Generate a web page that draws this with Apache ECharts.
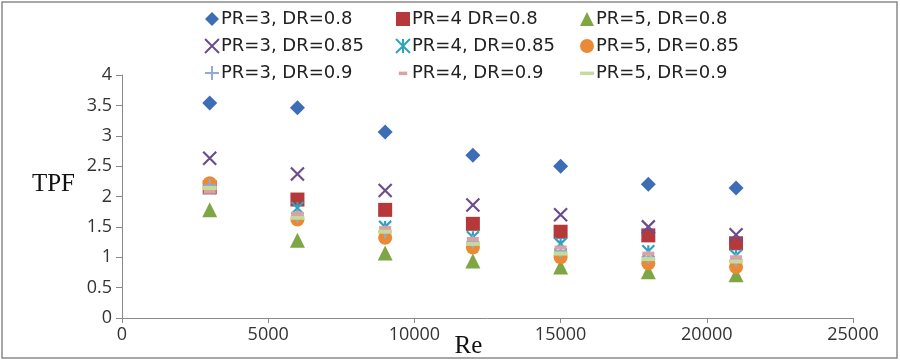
<!DOCTYPE html>
<html><head><meta charset="utf-8">
<script src="https://cdn.jsdelivr.net/npm/echarts@6/dist/echarts.min.js"></script>
<style>html,body{margin:0;padding:0;background:#fff}#c{width:900px;height:361px}</style>
</head><body><div id="c"></div>
<script>
const reValues = [3000, 6000, 9000, 12000, 15000, 18000, 21000];
const seriesNames = ['PR=3, DR=0.8','PR=4 DR=0.8','PR=5, DR=0.8','PR=3, DR=0.85','PR=4, DR=0.85','PR=5, DR=0.85','PR=3, DR=0.9','PR=4, DR=0.9','PR=5, DR=0.9'];
const pr3dr08  = [3.54, 3.46, 3.06, 2.68, 2.50, 2.20, 2.14];
const pr4dr08  = [2.15, 1.95, 1.78, 1.55, 1.42, 1.36, 1.23];
const pr5dr08  = [1.78, 1.28, 1.07, 0.94, 0.84, 0.76, 0.71];
const pr3dr085 = [2.63, 2.37, 2.10, 1.86, 1.70, 1.50, 1.37];
const pr4dr085 = [2.14, 1.81, 1.50, 1.33, 1.22, 1.10, 1.03];
const pr5dr085 = [2.22, 1.62, 1.32, 1.16, 1.00, 0.90, 0.84];
const pr3dr09  = [2.18, 1.68, 1.42, 1.25, 1.10, 1.00, 0.95];
const pr4dr09  = [2.08, 1.72, 1.48, 1.30, 1.16, 1.06, 1.00];
const pr5dr09  = [2.14, 1.65, 1.42, 1.22, 1.06, 0.97, 0.93];
const yTicks = [0, 0.5, 1, 1.5, 2, 2.5, 3, 3.5, 4];
const xTicks = [0, 5000, 10000, 15000, 20000, 25000];

const allData = [pr3dr08, pr4dr08, pr5dr08, pr3dr085, pr4dr085, pr5dr085, pr3dr09, pr4dr09, pr5dr09];
const colors = ['#3D6DB5','#B5393A','#7FA645','#6B4C8E','#2CA3BF','#EA8A35','#93A9D6','#E0A0A0','#C5DA9E'];
const X = 'path://M0,0 L10,10 M10,0 L0,10';
const AST = 'path://M0,0 L10,10 M10,0 L0,10 M5,0 L5,10';
const PLUS = 'path://M5,0 L5,10 M0,5 L10,5';
const DASH = 'path://M0,0 M10,10 M0,4 L10,4 L10,6.5 L0,6.5 Z';
const DASH_S = 'path://M0,0 M10,10 M2,4 L8,4 L8,6.5 L2,6.5 Z';
const symbols = ['diamond','rect','triangle',X,AST,'circle',PLUS,'rect','rect'];
const legendIcons = ['diamond','rect','triangle',X,AST,'circle',PLUS,DASH_S,DASH];
const sizes = [15, 14, 15, 13, 12, 14, 13, [12,4], [14,4]];
const stroked = [false,false,false,true,true,false,true,false,false];

const series = allData.map((d, i) => ({
  name: seriesNames[i],
  type: 'scatter',
  data: reValues.map((x, j) => [x, d[j]]),
  symbol: symbols[i],
  symbolSize: sizes[i],
  symbolKeepAspect: false,
  itemStyle: stroked[i] ? {color: colors[i], borderColor: colors[i], borderWidth: 2.2, opacity: 1} : {color: colors[i], opacity: 1},
  z: 2 + i
}));

function legendCol(left, idx) {
  return {
    orient: 'vertical', left: left, top: 5, itemGap: 9,
    itemWidth: 14, itemHeight: 14,
    data: idx.map(i => ({name: seriesNames[i], icon: legendIcons[i]})),
    textStyle: {fontFamily: 'DejaVu Sans', fontSize: 18, color: '#222', padding: [0,0,0,-3]},
    selectedMode: false
  };
}

const chart = echarts.init(document.getElementById('c'));
chart.setOption({
  animation: false,
  color: colors,
  graphic: [{type: 'rect', shape: {x: 2, y: 2, width: 895, height: 356}, style: {fill: 'none', stroke: '#8a8a8a', lineWidth: 1.5}, silent: true}],
  legend: [
    legendCol(199, [0, 3, 6]),
    legendCol(390, [1, 4, 7]),
    legendCol(575, [2, 5, 8])
  ],
  grid: {left: 122, right: 47, top: 75, bottom: 43, outerBoundsMode: 'none', containLabel: false},
  xAxis: {
    type: 'value', min: 0, max: 25000, interval: 5000,
    name: 'Re', nameLocation: 'middle', nameGap: 16, nameMoveOverlap: false,
    nameTextStyle: {fontFamily: 'Liberation Serif', fontSize: 25, color: '#111', padding: [0, 38, 0, 0]},
    axisLine: {lineStyle: {color: '#8a8a8a'}},
    axisTick: {show: true, length: 5, lineStyle: {color: '#8a8a8a'}},
    axisLabel: {fontFamily: 'Open Sans', fontSize: 18, color: '#333', margin: 8, formatter: v => String(v)},
    splitLine: {show: false}
  },
  yAxis: {
    type: 'value', min: 0, max: 4, interval: 0.5,
    name: 'TPF', nameLocation: 'middle', nameGap: 47, nameRotate: 0, nameMoveOverlap: false,
    nameTextStyle: {fontFamily: 'Liberation Serif', fontSize: 25, color: '#111', align: 'right', verticalAlign: 'bottom'},
    axisLine: {show: true, lineStyle: {color: '#8a8a8a'}},
    axisTick: {show: true, length: 6, lineStyle: {color: '#8a8a8a'}},
    axisLabel: {fontFamily: 'Open Sans', fontSize: 18, color: '#333', margin: 10, formatter: v => String(v)},
    splitLine: {show: false}
  },
  series: series
});
</script></body></html>
